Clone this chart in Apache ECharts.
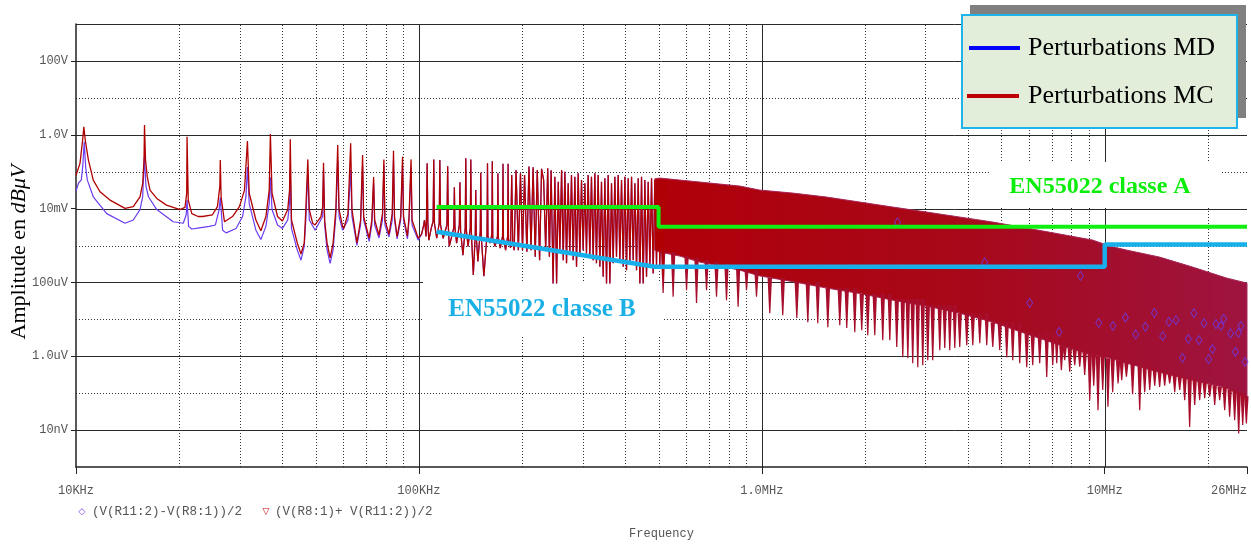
<!DOCTYPE html>
<html><head><meta charset="utf-8">
<script src="https://cdn.jsdelivr.net/npm/echarts@6.0.0/dist/echarts.min.js"></script>
<style>html,body{margin:0;padding:0;background:#fff}#c{width:1251px;height:546px}</style>
</head><body><div id="c"></div>
<script>
// ---------- axis ranges & ticks ----------
const X_MIN = 1e4, X_MAX = 2.6e7, Y_MIN = 1e-9, Y_MAX = 1e3;
const xTickVals = [1e4, 1e5, 1e6, 1e7, 2.6e7];
const xTickLabels = ['10KHz', '100KHz', '1.0MHz', '10MHz', '26MHz'];
const yTickVals = [1e-8, 1e-6, 1e-4, 1e-2, 1, 100];
const yTickLabels = ['10nV', '1.0uV', '100uV', '10mV', '1.0V', '100V'];
const xMajorGrid = [1e5, 1e6, 1e7];
const xMinorGrid = [2e4,3e4,4e4,5e4,6e4,7e4,8e4,9e4,2e5,3e5,4e5,5e5,6e5,7e5,8e5,9e5,2e6,3e6,4e6,5e6,6e6,7e6,8e6,9e6,2e7];
const yMajorGrid = [1e-8, 1e-6, 1e-4, 1e-2, 1, 100, 1000];
const yMinorGrid = [1e-7, 1e-5, 1e-3, 1e-1, 10];

// ---------- MC trace (V(R8:1)+V(R11:2))/2, 10k-100k : [Hz, V] ----------
const mcPts = [
[10000,0.08],[10272,0.168],[10456,0.72],[10540,1.65],[10640,0.72],[10870,0.206],[11230,0.059],[11749,0.0286],
[12565,0.017],[13898,0.0101],[14690,0.0113],[15371,0.0209],[15650,0.048],[15790,0.206],[15840,1.83],[15950,0.206],
[16140,0.072],[16434,0.0317],[17200,0.0188],[18360,0.0124],[20101,0.0094],[20790,0.0108],[21030,0.0257],[21080,0.88],
[21250,0.017],[21760,0.0073],[22700,0.0061],[23400,0.0061],[25000,0.0068],[25850,0.0113],[26270,0.040],[26350,0.206],
[26500,0.0205],[27100,0.0044],[28600,0.0061],[29960,0.0113],[31000,0.0317],[31620,0.68],[32000,0.026],[33470,0.0049],
[34600,0.0025],[35800,0.0061],[36600,0.0317],[36890,1.04],[37300,0.026],[38700,0.0061],[40000,0.0046],[41450,0.0094],
[41950,0.0317],[42160,0.75],[42500,0.0049],[44200,0.00116],[45300,0.00059],[46300,0.00116],[46800,0.0094],[47430,0.215],
[47900,0.0094],[49000,0.0040],[49800,0.0036],[51800,0.0061],[52400,0.0113],[52700,0.174],[53100,0.0049],[53980,0.00116],
[55100,0.00046],[56200,0.00116],[57250,0.0094],[57970,0.526],[58500,0.0094],[59900,0.0033],[60400,0.0029],[62100,0.0073],
[63240,0.585],[63800,0.0094],[65960,0.00118],[67600,0.0049],[68510,0.282],[69000,0.0061],[71600,0.00157],[72900,0.0049],
[73780,0.0714],[74300,0.0049],[76500,0.0019],[78300,0.0073],[79050,0.215],[79600,0.0049],[81800,0.0020],[83600,0.0073],
[84320,0.368],[84900,0.0061],[86400,0.00173],[88500,0.0061],[89590,0.253],[90200,0.0061],[92600,0.0018],[93600,0.0061],
[94860,0.215],[95500,0.0049],[99500,0.0016]
];

// ---------- MD trace (V(R11:2)-V(R8:1))/2, 10k-100k : [Hz, V] ----------
const mdPts = [
[10000,0.030],[10180,0.050],[10272,0.052],[10360,0.059],[10460,0.134],[10570,0.64],[10670,0.134],[10790,0.059],
[11230,0.0209],[12290,0.0073],[13898,0.0040],[14690,0.0049],[15371,0.0094],[15650,0.021],[15820,0.25],[16000,0.040],
[16270,0.0209],[17200,0.0094],[19200,0.0044],[20550,0.0040],[20960,0.0068],[21080,0.017],[21300,0.0033],[21760,0.0028],
[22400,0.0029],[24480,0.0033],[25500,0.0036],[26150,0.0094],[26350,0.020],[26770,0.0026],[27400,0.0022],[29300,0.0029],
[30600,0.0061],[31300,0.021],[31620,0.134],[32000,0.0137],[33470,0.0026],[34600,0.00145],[35800,0.0033],[36600,0.0137],
[36890,0.071],[37300,0.0094],[38700,0.0036],[40000,0.0029],[41450,0.0049],[41950,0.0137],[42160,0.11],[42500,0.0029],
[44200,0.00075],[45300,0.0004],[46300,0.00095],[46800,0.0049],[47430,0.11],[47900,0.0049],[49800,0.0026],[52400,0.0061],
[52700,0.11],[53100,0.0036],[53980,0.00075],[55100,0.00033],[56200,0.00075],[57250,0.0061],[57970,0.206],[58500,0.0061],
[59900,0.0026],[62100,0.0049],[63240,0.11],[63800,0.0061],[65960,0.001],[67600,0.0036],[68510,0.15],[69000,0.0049],
[71600,0.0013],[72900,0.0036],[73780,0.05],[74300,0.0036],[76500,0.0016],[78300,0.0049],[79050,0.15],[79600,0.0036],
[81800,0.0017],[83600,0.0049],[84320,0.2],[84900,0.0049],[86400,0.0015],[88500,0.0049],[89590,0.15],[90200,0.0049],
[92600,0.0015],[93600,0.0049],[94860,0.13],[95500,0.0036],[99500,0.0014]
];

// ---------- harmonic spikes 100k-520k (both traces overlap) : [Hz, V] ----------
const spikePts = [
[101800,0.0020],[103300,0.0036],[103800,0.0049],[104400,0.0030],[104900,0.00175],[105200,0.0045],[105700,0.17],[106200,0.0040],
[106900,0.0014],[108700,0.0030],[110000,0.0045],[110500,0.215],[111000,0.0040],[112700,0.00157],[114600,0.0040],[115100,0.206],
[115600,0.0036],[117700,0.00157],[120700,0.0036],[121300,0.14],[121900,0.0030],[122600,0.00095],[126400,0.0030],[126900,0.038],
[127400,0.0030],[128800,0.00116],[131200,0.0036],[131700,0.052],[132300,0.0025],[134400,0.00055],[136500,0.0030],[137000,0.23],
[137600,0.0025],[139100,0.00095],[141200,0.0030],[141700,0.215],[142300,0.0020],[144100,0.000158],[146000,0.0020],[146500,0.032],
[147000,0.0018],[148600,0.00037],[151000,0.0025],[151500,0.093],[152000,0.0018],[154700,0.000148],[158000,0.0020],[158500,0.17],
[159000,0.0018],[161100,0.00116],[163200,0.0020],[163700,0.19],[164200,0.0016],[166800,0.00095],[169500,0.0018],[170000,0.09],
[170500,0.0016],[172700,0.00085],[175400,0.0018],[175900,0.165],[176400,0.0016],[179000,0.00075],[181500,0.0018],[182000,0.165],
[182500,0.0015],[185000,0.00087],[186500,0.081],[187800,0.0012],[189600,0.00075],[192000,0.11],[195000,0.00075],[197800,0.09],
[200500,0.00075],[203300,0.081],[206500,0.00068],[209400,0.137],[212300,0.00075],[215300,0.132],[218400,0.0005],[221400,0.11],
[224900,0.0004],[227900,0.12],[231100,0.0592],[234300,0.00075],[237500,0.123],[240200,0.0005],[243000,0.11],[246200,0.000094],
[249200,0.0728],[252100,0.000094],[254900,0.0532],[257700,0.00075],[260700,0.11],[263600,0.0004],[266500,0.0993],[269500,0.00033],
[272500,0.0482],[275500,0.00061],[278600,0.0809],[281800,0.0004],[285000,0.0728],[288200,0.000265],[291400,0.090],[294700,0.0005],
[298000,0.0592],[301300,0.00075],[304800,0.0482],[308100,0.00061],[311600,0.0809],[315100,0.0005],[318600,0.0728],[322300,0.0004],
[325900,0.090],[329500,0.00033],[333200,0.0809],[337100,0.000265],[340800,0.0532],[344700,0.000142],[348600,0.0658],[352500,0.000094],
[356400,0.0809],[360500,0.000094],[364500,0.0482],[368600,0.00033],[372800,0.0728],[376900,0.0005],[381200,0.0809],[385500,0.0004],
[389900,0.0592],[394300,0.000265],[398700,0.0728],[403200,0.000215],[407700,0.0658],[412300,0.00033],[417000,0.0728],[421600,0.0004],
[426400,0.0482],[431200,0.000215],[436100,0.0658],[441000,0.000094],[445900,0.0728],[450900,0.000094],[456000,0.0592],[461100,0.000142],
[466300,0.0532],[471600,0.000265],[476900,0.0658],[482200,0.000175],[487500,0.0592],[493100,0.000294],[498600,0.0532],[504300,0.000265],
[509900,0.0482],[515700,0.000142],[521500,0.0532]
];

// ---------- dense spectrum above ~490k : [Hz, upper envelope V, lower solid edge V] ----------
const bandPts = [
[487500,0.0640,0.00075],[504300,0.0671,0.000663],[576700,0.0592,0.000516],[659600,0.0523,0.000355],
[754400,0.0461,0.000277],[862800,0.0407,0.000215],[986700,0.0317,0.00015],[1231000,0.0263,0.000105],
[1547000,0.0205,0.0000701],[1931000,0.0150,0.0000500],[2410000,0.0110,0.0000331],[3027000,0.00804,0.0000228],
[3778000,0.00589,0.0000147],[4716000,0.00431,0.0000084],[5924000,0.00296,0.0000040],[7394000,0.00204,0.000002],
[9226000,0.0014,0.00000107],[10340000,0.000963,8.9e-7],[11590000,0.00075,6.5e-7],[14460000,0.000485,3.7e-7],
[18050000,0.00026,2.25e-7],[22680000,0.000131,1.37e-7],[26000000,0.0000957,7.3e-8]
];

// ---------- downward notches below the dense band : [Hz, root V, tip V] ----------
const combPts = [
[515500,7.5e-4,5.13e-5],[551300,6.63e-4,4.07e-5],[603300,5.16e-4,6.18e-5],[645100,4.56e-4,2.75e-5],[690000,4.02e-4,6.18e-5],
[737800,3.55e-4,4.07e-5],[789000,3.13e-4,3.31e-5],[853000,2.77e-4,2.18e-5],[902500,2.44e-4,6.18e-5],[965000,2.15e-4,4.07e-5],
[1055000,1.31e-4,1.47e-5],[1151000,1.31e-4,1.30e-5],[1265000,1.02e-4,1.08e-5],[1362000,1.02e-4,8.4e-6],[1456000,1.02e-4,7.89e-6],
[1558000,7.01e-5,6.15e-6],[1688000,7.01e-5,6.96e-6],[1769000,7.01e-5,5.78e-6],[1867000,7.01e-5,4.5e-6],[1956000,4.82e-5,5.1e-6],
[2037000,4.82e-5,3.73e-6],[2135000,4.82e-5,3.73e-6],[2253000,4.82e-5,2.73e-6],[2362000,4.82e-5,2.73e-6],[2475000,3.53e-5,1.77e-6],
[2577000,3.53e-5,9.46e-7],[2666000,3.53e-5,8.89e-7],[2755000,3.53e-5,6.5e-7],[2850000,3.53e-5,5.07e-7],[2947000,3.53e-5,5.74e-7],
[3048000,2.43e-5,7.83e-7],[3151000,2.43e-5,7.83e-7],[3304000,2.43e-5,1.46e-6],[3416000,2.43e-5,1.66e-6],[3533000,2.43e-5,1.46e-6],
[3654000,2.43e-5,1.66e-6],[3778000,1.47e-5,1.77e-6],[3960000,1.47e-5,2.0e-6],[4124000,1.47e-5,2.0e-6],[4322000,1.47e-5,2.26e-6],
[4529000,1.47e-5,2.0e-6],[4716000,8.4e-6,1.77e-6],[4942000,8.4e-6,1.46e-6],[5180000,8.4e-6,9.46e-7],[5393000,8.4e-6,7.83e-7],
[5652000,8.4e-6,6.5e-7],[5924000,4.23e-6,5.07e-7],[6167000,4.23e-6,5.74e-7],[6463000,4.23e-6,6.5e-7],[6775000,4.23e-6,2.72e-7],
[7053000,4.23e-6,5.74e-7],[7246000,4.23e-6,6.5e-7],[7477000,2.0e-6,4.2e-7],[7644000,1.88e-6,7.83e-7],[7907000,1.66e-6,3.78e-7],
[8176000,1.55e-6,5.74e-7],[8456000,1.46e-6,5.16e-7],[8743000,1.29e-6,3.1e-7],[9043000,1.21e-6,6.46e-8],[9289000,1.14e-6,1.6e-7],
[9561000,1.01e-6,3.46e-8],[9867000,1.01e-6,1.21e-7],[10220000,8.89e-7,4.26e-8],[10550000,8.89e-7,1.06e-7],[10940000,7.83e-7,1.83e-7],
[11210000,7.83e-7,2.25e-7],[11570000,6.92e-7,2.77e-7],[12060000,6.5e-7,9.3e-8],[12650000,5.39e-7,3.46e-8],[13080000,5.39e-7,1.06e-7],
[13530000,4.76e-7,1.21e-7],[13990000,4.76e-7,1.6e-7],[14460000,4.2e-7,1.48e-7],[14960000,3.95e-7,1.6e-7],[15470000,3.48e-7,1.83e-7],
[16000000,3.27e-7,1.06e-7],[16550000,2.89e-7,1.21e-7],[17110000,2.72e-7,6.46e-8],[17690000,2.55e-7,1.22e-8],[18300000,2.39e-7,4.8e-8],
[18920000,2.11e-7,6.46e-8],[19570000,1.99e-7,7.3e-8],[20240000,1.75e-7,7.94e-8],[20930000,1.65e-7,4.8e-8],[21640000,1.46e-7,6.46e-8],
[22380000,1.46e-7,3.46e-8],[23140000,1.28e-7,2.28e-8],[23930000,1.21e-7,1.86e-8],[24590000,1.06e-7,8.09e-9],[25260000,1.0e-7,1.37e-8],
[25890000,8.3e-8,1.51e-8]
];

// ---------- MD trace markers (PSpice symbols) : [Hz, V] ----------
const mdMarks = [
[2487000,4.23e-3],[4468000,3.48e-4],[8497000,1.51e-4],[6043000,2.8e-5],[7359000,4.58e-6],[9605000,8.04e-6],[10570000,6.67e-6],
[11490000,1.12e-5],[12310000,3.9e-6],[13140000,6.27e-6],[13960000,1.5e-5],[14760000,3.5e-6],[15400000,8.55e-6],[16140000,9.5e-6],
[16850000,9.06e-7],[17540000,2.96e-6],[18210000,1.47e-5],[18830000,2.73e-6],[19480000,7.89e-6],[20100000,8.34e-7],[20610000,1.56e-6],
[21110000,7.41e-6],[21830000,6.67e-6],[22230000,1.03e-5],[23290000,4.15e-6],[24050000,1.32e-6],[24540000,4.31e-6],[24970000,6.67e-6],
[25650000,7.05e-7]
];

// ---------- EN55022 limits : [Hz, V] ----------
const classAPts = [[112600,0.0111],[500000,0.0111],[500000,0.00321],[26000000,0.00321]];
const classBPts = [[112600,0.00235],[487500,0.000265],[10000000,0.000265],[10000000,0.00107],[26000000,0.00107]];

// ---------- helpers ----------
function pickLabel(vals, labels, v) {
  let best = -1, bd = 1e9;
  vals.forEach((t, i) => { const d = Math.abs(Math.log10(t) - Math.log10(v)); if (d < bd) { bd = d; best = i; } });
  return bd < 1e-3 ? labels[best] : '';
}
const crisp = v => Math.round(v) + 0.5;
const mono = 'Liberation Mono';
const serif = 'Liberation Serif';

const chart = echarts.init(document.getElementById('c'), null, {renderer: 'canvas', devicePixelRatio: 1});

const option = {
  animation: false,
  backgroundColor: '#ffffff',
  grid: {left: 76, right: 4, top: 24, bottom: 79, containLabel: false},
  xAxis: {
    type: 'log', logBase: 10, min: X_MIN, max: X_MAX,
    axisLine: {show: true, lineStyle: {color: '#222', width: 1.5}},
    axisTick: {show: true, customValues: xTickVals, length: 7, lineStyle: {color: '#222'}},
    axisLabel: {customValues: xTickVals, formatter: v => pickLabel(xTickVals, xTickLabels, v),
      color: '#555', fontFamily: mono, fontSize: 12, margin: 18, alignMaxLabel: 'right'},
    splitLine: {show: false}, minorTick: {show: false}, minorSplitLine: {show: false},
    name: 'Frequency', nameLocation: 'middle', nameGap: 61,
    nameTextStyle: {color: '#555', fontFamily: mono, fontSize: 12}
  },
  yAxis: {
    type: 'log', logBase: 10, min: Y_MIN, max: Y_MAX,
    axisLine: {show: true, lineStyle: {color: '#222', width: 1.5}},
    axisTick: {show: true, customValues: yTickVals, length: 5, lineStyle: {color: '#222'}},
    axisLabel: {customValues: yTickVals, formatter: v => pickLabel(yTickVals, yTickLabels, v),
      color: '#555', fontFamily: mono, fontSize: 12, margin: 8},
    splitLine: {show: false}, minorTick: {show: false}, minorSplitLine: {show: false}
  },
  series: [
    { // grid lines
      type: 'custom', name: 'grid', z: 0, silent: true, clip: false,
      data: [[X_MIN, Y_MIN]],
      renderItem: (params, api) => {
        const ch = [];
        xMajorGrid.forEach(v => { const a = api.coord([v, Y_MIN]), b = api.coord([v, Y_MAX]);
          ch.push({type: 'line', shape: {x1: crisp(a[0]), y1: a[1], x2: crisp(a[0]), y2: b[1]}, style: {stroke: '#2a2a2a', lineWidth: 1}}); });
        xMinorGrid.forEach(v => { const a = api.coord([v, Y_MIN]), b = api.coord([v, Y_MAX]);
          ch.push({type: 'line', shape: {x1: crisp(a[0]), y1: a[1], x2: crisp(a[0]), y2: b[1]}, style: {stroke: '#333', lineWidth: 1, lineDash: [1, 2]}}); });
        yMajorGrid.forEach(v => { const a = api.coord([X_MIN, v]), b = api.coord([X_MAX, v]);
          ch.push({type: 'line', shape: {x1: a[0], y1: crisp(a[1]), x2: b[0], y2: crisp(a[1])}, style: {stroke: '#2a2a2a', lineWidth: 1}}); });
        yMinorGrid.forEach(v => { const a = api.coord([X_MIN, v]), b = api.coord([X_MAX, v]);
          ch.push({type: 'line', shape: {x1: a[0], y1: crisp(a[1]), x2: b[0], y2: crisp(a[1])}, style: {stroke: '#333', lineWidth: 1, lineDash: [1, 2]}}); });
        return {type: 'group', children: ch};
      }
    },
    {
      type: 'line', name: 'MD', data: mdPts.concat(spikePts), symbol: 'none', silent: true,
      lineStyle: {color: '#6B3CF0', width: 1.2}, z: 2
    },
    {
      type: 'line', name: 'MC', data: mcPts.concat(spikePts), symbol: 'none', silent: true,
      lineStyle: {color: '#B00000', width: 1.3}, z: 3
    },
    { // dense band
      type: 'custom', name: 'band', z: 3, silent: true,
      data: [[bandPts[0][0], bandPts[0][1]]],
      renderItem: (params, api) => {
        const pts = [];
        bandPts.forEach(p => pts.push(api.coord([p[0], p[1]])));
        for (let i = bandPts.length - 1; i >= 0; i--) pts.push(api.coord([bandPts[i][0], bandPts[i][2]]));
        return {type: 'polygon', shape: {points: pts},
          style: {fill: new echarts.graphic.LinearGradient(0, 0, 1, 0, [
            {offset: 0, color: '#B0000A'}, {offset: 0.5, color: '#A80818'}, {offset: 1, color: '#9E1440'}]),
            stroke: '#A8285A', lineWidth: 1}};
      }
    },
    { // notches
      type: 'custom', name: 'notches', z: 3, silent: true,
      data: combPts,
      encode: {x: 0, y: [1, 2]},
      renderItem: (params, api) => {
        const f = api.value(0);
        const a = api.coord([f, api.value(1)]), b = api.coord([f, api.value(2)]);
        return {type: 'polygon', shape: {points: [[a[0] - 2.2, a[1]], [a[0] + 2.2, a[1]], [b[0] + 0.6, b[1]], [b[0] - 0.6, b[1]]]},
          style: {fill: '#A60E2C'}};
      }
    },
    {
      type: 'scatter', name: 'MD markers', data: mdMarks, symbol: 'diamond', symbolSize: [6, 9], silent: true,
      itemStyle: {color: 'rgba(0,0,0,0)', borderColor: '#6B3CF0', borderWidth: 1}, z: 4
    },
    {
      type: 'line', name: 'EN55022 classe A', data: classAPts, symbol: 'none', silent: true,
      lineStyle: {color: '#11EE11', width: 4}, z: 5
    },
    {
      type: 'line', name: 'EN55022 classe B', data: classBPts, symbol: 'none', silent: true,
      lineStyle: {color: '#18B0EA', width: 4.5}, z: 5
    }
  ],
  graphic: [
    {type: 'rect', shape: {x: 423, y: 282, width: 240, height: 55}, style: {fill: '#fff'}, z: 1, silent: true},
    {type: 'rect', shape: {x: 991, y: 162, width: 230, height: 46}, style: {fill: '#fff'}, z: 1, silent: true},
    {type: 'text', x: 542, y: 310, z: 10, style: {text: 'EN55022 classe B', fill: '#1AB0E6', fontFamily: serif, fontWeight: 'bold', fontSize: 25, align: 'center', verticalAlign: 'middle'}},
    {type: 'text', x: 1100, y: 187, z: 10, style: {text: 'EN55022 classe A', fill: '#0BEE0B', fontFamily: serif, fontWeight: 'bold', fontSize: 24, align: 'center', verticalAlign: 'middle'}},
    {type: 'rect', shape: {x: 970, y: 5, width: 276, height: 113}, style: {fill: '#808080'}, z: 10},
    {type: 'rect', shape: {x: 962, y: 15, width: 275, height: 113}, style: {fill: '#E2EEDA', stroke: '#1CB4EA', lineWidth: 2}, z: 11},
    {type: 'line', shape: {x1: 969, y1: 48, x2: 1020, y2: 48}, style: {stroke: '#0000FF', lineWidth: 4}, z: 12},
    {type: 'text', x: 1028, y: 48, z: 12, style: {text: 'Perturbations MD', fill: '#000', fontFamily: serif, fontSize: 26, verticalAlign: 'middle'}},
    {type: 'line', shape: {x1: 967, y1: 96, x2: 1019, y2: 96}, style: {stroke: '#C00000', lineWidth: 4}, z: 12},
    {type: 'text', x: 1028, y: 96, z: 12, style: {text: 'Perturbations MC', fill: '#000', fontFamily: serif, fontSize: 26, verticalAlign: 'middle'}},
    {type: 'text', x: 19, y: 252, rotation: Math.PI / 2, z: 10, style: {
      text: '{a|Amplitude en }{b|dBμV}', align: 'center', verticalAlign: 'middle',
      rich: {a: {fontFamily: serif, fontSize: 22, fill: '#000'}, b: {fontFamily: serif, fontSize: 22, fontStyle: 'italic', fill: '#000'}}}},
    {type: 'text', x: 82, y: 512, z: 10, style: {text: '◇', fill: '#7B3CF5', fontFamily: 'DejaVu Sans', fontSize: 9, align: 'center', verticalAlign: 'middle'}},
    {type: 'text', x: 92, y: 512, z: 10, style: {text: '(V(R11:2)-V(R8:1))/2', fill: '#555', fontFamily: mono, fontSize: 12.5, verticalAlign: 'middle'}},
    {type: 'text', x: 266, y: 512, z: 10, style: {text: '▽', fill: '#C00000', fontFamily: 'DejaVu Sans', fontSize: 9, align: 'center', verticalAlign: 'middle'}},
    {type: 'text', x: 275, y: 512, z: 10, style: {text: '(V(R8:1)+ V(R11:2))/2', fill: '#555', fontFamily: mono, fontSize: 12.5, verticalAlign: 'middle'}}
  ]
};
chart.setOption(option);
</script>
</body></html>
